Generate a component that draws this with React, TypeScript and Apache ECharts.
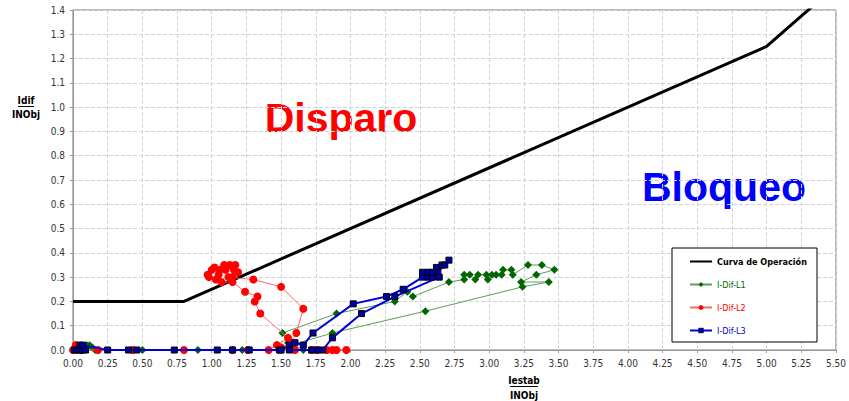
import React, { useEffect, useRef } from "react";
import * as echarts from "echarts";

const X_MIN = 0, X_MAX = 5.5, X_STEP = 0.25;
const Y_MIN = 0, Y_MAX = 1.4, Y_STEP = 0.1;

const curveX = [0, 0.8, 5.0, 5.5];
const curveY = [0.2, 0.2, 1.25, 1.5];

const l1X = [0.03, 0.08, 0.10, 0.12, 0.14, 0.16, 0.50, 0.90, 1.22, 1.48, 1.66, 1.55, 1.51, 1.90, 2.32, 2.41, 2.45, 2.71, 2.82, 2.82, 2.86, 2.90, 2.92, 2.98, 2.99, 3.02, 3.05, 3.09, 3.10, 3.16, 3.17, 3.28, 3.38, 3.47, 3.34, 3.23, 3.43, 3.24, 2.54, 1.87, 1.57];
const l1Y = [0.00, 0.01, 0.02, 0.02, 0.01, 0.00, 0.00, 0.00, 0.00, 0.00, 0.00, 0.03, 0.07, 0.15, 0.20, 0.24, 0.22, 0.28, 0.29, 0.31, 0.31, 0.29, 0.31, 0.31, 0.29, 0.31, 0.31, 0.31, 0.33, 0.33, 0.31, 0.35, 0.35, 0.33, 0.31, 0.28, 0.28, 0.26, 0.16, 0.07, 0.02];

const l2X = [0.00, 0.02, 0.04, 0.06, 0.18, 0.43, 0.80, 1.15, 1.26, 1.41, 1.47, 1.55, 1.35, 1.31, 1.33, 1.24, 1.15, 1.07, 1.03, 0.97, 0.98, 1.00, 1.02, 1.05, 1.06, 1.09, 1.10, 1.13, 1.17, 1.16, 1.19, 1.15, 1.12, 1.30, 1.50, 1.66, 1.61, 1.57, 1.50, 1.60, 1.72, 1.76, 1.83, 1.87, 1.90, 1.97];
const l2Y = [0.00, 0.02, 0.01, 0.00, 0.00, 0.00, 0.00, 0.00, 0.00, 0.00, 0.02, 0.05, 0.15, 0.20, 0.22, 0.24, 0.28, 0.28, 0.29, 0.31, 0.30, 0.33, 0.34, 0.31, 0.33, 0.35, 0.33, 0.35, 0.35, 0.33, 0.32, 0.30, 0.30, 0.29, 0.26, 0.17, 0.07, 0.03, 0.01, 0.00, 0.00, 0.00, 0.00, 0.00, 0.00, 0.00];

const l3X = [0.01, 0.03, 0.05, 0.07, 0.09, 0.05, 0.07, 0.25, 0.40, 0.46, 0.73, 1.04, 1.15, 1.27, 1.49, 1.50, 1.56, 1.60, 1.66, 1.73, 2.02, 2.26, 2.38, 2.52, 2.52, 2.56, 2.56, 2.59, 2.59, 2.62, 2.66, 2.68, 2.71, 2.63, 2.64, 2.32, 2.08, 1.87, 1.80, 1.76, 1.72, 1.56];
const l3Y = [0.00, 0.00, 0.00, 0.00, 0.00, 0.02, 0.02, 0.00, 0.00, 0.00, 0.00, 0.00, 0.00, 0.00, 0.00, 0.00, 0.02, 0.03, 0.02, 0.07, 0.19, 0.22, 0.25, 0.30, 0.32, 0.30, 0.32, 0.30, 0.32, 0.34, 0.35, 0.35, 0.37, 0.32, 0.30, 0.22, 0.15, 0.05, 0.00, 0.00, 0.00, 0.00];

const seriesNames = ["Curva de Operación", "I-Dif-L1", "I-Dif-L2", "I-Dif-L3"];

const zip = (xs: number[], ys: number[]) => xs.map((x, i) => [x, ys[i]]);

const FONT = '"DejaVu Sans Condensed", "DejaVu Sans", sans-serif';

export default function App() {
  const ref = useRef<HTMLDivElement>(null);
  useEffect(() => {
    if (!ref.current) return;
    const chart = echarts.init(ref.current, undefined, { renderer: "svg" });
    const gridLine = { show: true, lineStyle: { type: "dashed", color: "#d4d4d4", width: 1 } };
    chart.setOption({
      animation: false,
      backgroundColor: "#ffffff",
      textStyle: { fontFamily: FONT },
      grid: { left: 73, right: 13, top: 10, bottom: 51, show: true, borderColor: "#777", borderWidth: 1, backgroundColor: "transparent" },
      xAxis: {
        type: "value", min: X_MIN, max: X_MAX, interval: X_STEP,
        axisLine: { show: true, lineStyle: { color: "#999", width: 1 } },
        axisTick: { show: true, length: 3, lineStyle: { color: "#999" } },
        axisLabel: { color: "#333", fontSize: 10, fontFamily: FONT, margin: 8, formatter: (v: number) => v.toFixed(2) },
        splitLine: gridLine,
      },
      yAxis: {
        type: "value", min: Y_MIN, max: Y_MAX, interval: Y_STEP,
        axisLine: { show: true, lineStyle: { color: "#999", width: 1 } },
        axisTick: { show: true, length: 3, lineStyle: { color: "#999" } },
        axisLabel: { color: "#333", fontSize: 10, fontFamily: FONT, margin: 8, formatter: (v: number) => v.toFixed(1) },
        splitLine: gridLine,
      },
      legend: {
        orient: "vertical", left: 684, top: 251, itemWidth: 22, itemHeight: 6, itemGap: 12,
        textStyle: { fontSize: 9, fontFamily: FONT, lineHeight: 11 },
        data: [
          { name: seriesNames[0], textStyle: { color: "#000", fontWeight: "bold" }, itemStyle: { opacity: 0 } },
          { name: seriesNames[1], textStyle: { color: "#006600" } },
          { name: seriesNames[2], textStyle: { color: "#ff0000" } },
          { name: seriesNames[3], textStyle: { color: "#0000cc" }, itemStyle: { borderWidth: 0.5 } },
        ],
        z: 10,
      },
      graphic: [
        { type: "rect", z: 5, shape: { x: 672, y: 248, width: 145, height: 94 }, style: { fill: "#fff", stroke: "#000", lineWidth: 1 } },
        { type: "text", x: 26, y: 100, style: { text: "Idif", font: `bold 10px ${FONT}`, fill: "#000", align: "center", verticalAlign: "middle" } },
        { type: "line", shape: { x1: 18, y1: 106.5, x2: 34, y2: 106.5 }, style: { stroke: "#000", lineWidth: 1 } },
        { type: "text", x: 26, y: 114, style: { text: "INObj", font: `bold 10px ${FONT}`, fill: "#000", align: "center", verticalAlign: "middle" } },
        { type: "text", x: 524, y: 380, style: { text: "Iestab", font: `bold 10px ${FONT}`, fill: "#000", align: "center", verticalAlign: "middle" } },
        { type: "line", shape: { x1: 510, y1: 386.5, x2: 538, y2: 386.5 }, style: { stroke: "#000", lineWidth: 1 } },
        { type: "text", x: 524, y: 395, style: { text: "INObj", font: `bold 10px ${FONT}`, fill: "#000", align: "center", verticalAlign: "middle" } },
        { type: "text", x: 341, y: 118, style: { text: "Disparo", font: 'bold 41px "Liberation Sans", sans-serif', fill: "#ff0000", align: "center", verticalAlign: "middle" } },
        { type: "text", x: 724, y: 187, style: { text: "Bloqueo", font: 'bold 41px "Liberation Sans", sans-serif', fill: "#0000ff", align: "center", verticalAlign: "middle" } },
      ],
      series: [
        {
          name: seriesNames[0], type: "line", data: zip(curveX, curveY), symbol: "none", clip: true,
          lineStyle: { color: "#000", width: 3 }, itemStyle: { color: "#000" }, z: 3,
        },
        {
          name: seriesNames[1], type: "line", data: zip(l1X, l1Y), symbol: "diamond", symbolSize: 8, clip: false,
          lineStyle: { color: "#5a9e5a", width: 1 }, itemStyle: { color: "#006600" }, z: 4,
        },
        {
          name: seriesNames[2], type: "line", data: zip(l2X, l2Y), symbol: "circle", symbolSize: 8, clip: false,
          lineStyle: { color: "#ff6666", width: 1 }, itemStyle: { color: "#ff0000" }, z: 5,
        },
        {
          name: seriesNames[3], type: "line", data: zip(l3X, l3Y), symbol: "rect", symbolSize: 6, clip: false,
          lineStyle: { color: "#0000dd", width: 2 }, itemStyle: { color: "#0000aa", borderColor: "#000", borderWidth: 1 }, z: 6,
        },
      ],
    });
    return () => chart.dispose();
  }, []);
  return <div ref={ref} style={{ width: 849, height: 401, position: "absolute", left: 0, top: 0 }} />;
}
